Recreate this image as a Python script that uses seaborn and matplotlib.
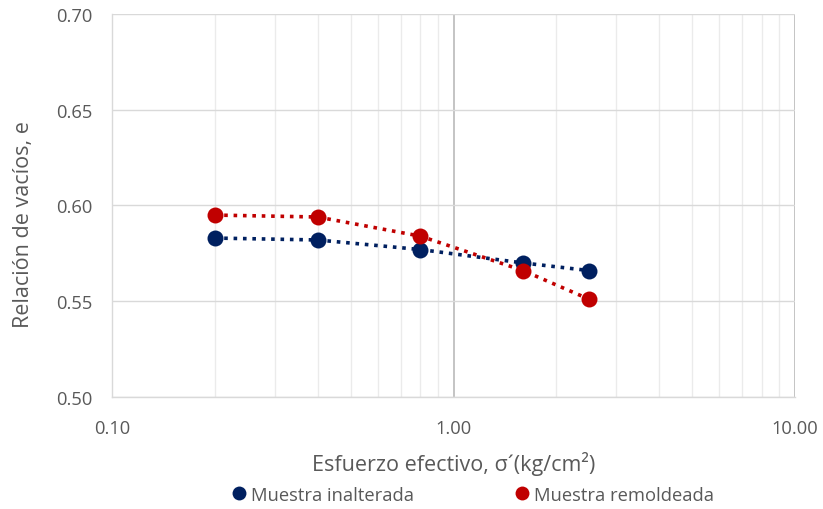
import matplotlib
matplotlib.use("Agg")
import matplotlib.pyplot as plt
import matplotlib.ticker as mticker
from matplotlib.lines import Line2D
import seaborn as sns
import pandas as pd

esfuerzo = [0.2, 0.4, 0.8, 1.6, 2.5]
e_inalterada = [0.583, 0.582, 0.577, 0.570, 0.566]
e_remoldeada = [0.595, 0.594, 0.584, 0.566, 0.551]
series_names = ["Muestra inalterada", "Muestra remoldeada"]
colors = ["#002060", "#C00000"]

sns.set_theme(style="white")
plt.rcParams['font.family'] = ['Open Sans', 'DejaVu Sans']
text_color = "#595959"

df = pd.DataFrame({
    "x": esfuerzo * 2,
    "e": e_inalterada + e_remoldeada,
    "serie": [series_names[0]] * len(esfuerzo) + [series_names[1]] * len(esfuerzo),
})

fig = plt.figure(figsize=(8.23, 5.10), dpi=100)
ax = fig.add_axes([112/823, 1 - 398/510, (795-112)/823, (398-15)/510])

for name, c in zip(series_names, colors):
    sub = df[df["serie"] == name]
    sns.lineplot(data=sub, x="x", y="e", ax=ax, color=c, linestyle=(0, (1, 1.6)),
                 linewidth=2.6, marker="o", markersize=11.5, markeredgewidth=0,
                 estimator=None, sort=False, legend=False)

ax.set_xscale("log")
ax.set_xlim(0.1, 10)
ax.set_ylim(0.5, 0.7)
ax.yaxis.set_major_locator(mticker.MultipleLocator(0.05))
ax.yaxis.set_major_formatter(mticker.FormatStrFormatter("%.2f"))
ax.xaxis.set_major_locator(mticker.FixedLocator([0.1, 1, 10]))
ax.xaxis.set_major_formatter(mticker.FixedFormatter(["0.10", "1.00", "10.00"]))
ax.xaxis.set_minor_locator(mticker.LogLocator(base=10, subs=range(2, 10)))
ax.xaxis.set_minor_formatter(mticker.NullFormatter())

ax.grid(True, which="major", axis="y", color="#D9D9D9", linewidth=1.0)
ax.grid(True, which="major", axis="x", color="#BFBFBF", linewidth=1.3)
ax.grid(True, which="minor", axis="x", color="#EBEBEB", linewidth=1.0)
ax.set_axisbelow(True)
for s in ["top", "right"]:
    ax.spines[s].set_visible(False)
for s in ["left", "bottom"]:
    ax.spines[s].set_color("#D9D9D9")
    ax.spines[s].set_linewidth(1.0)

ax.tick_params(axis="both", which="both", length=0, labelsize=13.2, labelcolor=text_color)
ax.tick_params(axis="y", pad=14)
ax.tick_params(axis="x", pad=16)
ax.set_xlabel("Esfuerzo efectivo, σ´(kg/cm²)", fontsize=15.5, color=text_color, labelpad=10)
ax.set_ylabel("Relación de vacíos, e", fontsize=15.5, color=text_color)
ax.yaxis.set_label_coords(-0.1145, 0.452)

handles = [Line2D([], [], linestyle="none", marker="o", markersize=10, color=c, markeredgewidth=0)
           for c in colors]
fig.legend(handles, series_names, loc="lower center", bbox_to_anchor=(0.573, -0.022), ncol=2,
           frameon=False, fontsize=13.2, labelcolor=text_color, handletextpad=0.15,
           columnspacing=5.4, handlelength=1.0)

fig.savefig("out.png", dpi=100)
